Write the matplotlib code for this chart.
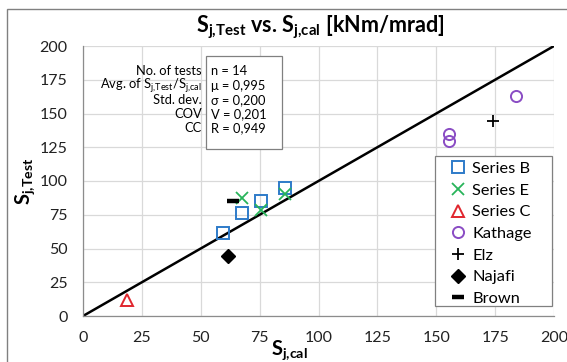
import matplotlib
matplotlib.use("Agg")
import matplotlib.pyplot as plt
from matplotlib.patches import Rectangle

# ---- data ----
b_x = [59.3, 67.5, 75.6, 85.8]
b_y = [61.7, 76.5, 85.4, 94.6]
e_x = [67.5, 75.6, 85.8]
e_y = [87.6, 78.5, 90.1]
c_x = [18.6]
c_y = [11.6]
k_x = [155.5, 155.5, 184.0]
k_y = [134.6, 129.6, 163.0]
elz_x = [174.0]
elz_y = [144.4]
naj_x = [61.4]
naj_y = [44.7]
brown_x = [63.8]
brown_y = [85.2]
ticks = [0, 25, 50, 75, 100, 125, 150, 175, 200]
stat_labels = ["No. of tests", r"Avg. of S$_\mathregular{j{,}Test}$/S$_\mathregular{j{,}cal}$",
               "Std. dev.", "COV", "CC"]
stat_values = ["n = 14", "μ = 0,995", "σ = 0,200", "V = 0,201", "R = 0,949"]

plt.rcParams['font.family'] = ['Lato', 'DejaVu Sans']
plt.rcParams['mathtext.fontset'] = 'custom'
plt.rcParams['mathtext.rm'] = 'Lato'
plt.rcParams['mathtext.bf'] = 'Lato:bold'

W, H = 567, 362
fig = plt.figure(figsize=(W / 100, H / 100), dpi=100)

def fx(px):
    return px / W

def fy(py):
    return 1 - py / H

# outer border
fig.patches.append(Rectangle((fx(7), fy(400)), 1.2, fy(9) - fy(400), transform=fig.transFigure,
                             fill=False, edgecolor='#808080', linewidth=1.0))

ax = fig.add_axes([fx(83), fy(316), (554 - 83) / W, (316 - 46) / H])
ax.set_xlim(0, 200)
ax.set_ylim(0, 200)
ax.set_xticks(ticks)
ax.set_yticks(ticks)
ax.grid(True, color='#D9D9D9', linewidth=0.9)
ax.set_axisbelow(True)
for s in ['top', 'right']:
    ax.spines[s].set_visible(False)
for s in ['left', 'bottom']:
    ax.spines[s].set_color('#8C8C8C')
    ax.spines[s].set_linewidth(0.9)
ax.tick_params(length=0, labelsize=11.5, colors='#222222', pad=11)

ax.plot([0, 200], [0, 200], color='black', linewidth=1.8, zorder=2)

ms = 8
hs = dict(linestyle='none', markerfacecolor='none', markeredgewidth=1.4, markersize=ms, zorder=3)
ax.plot(b_x, b_y, marker='s', color='#2E7BC9', label='Series B', **hs)
ax.plot(e_x, e_y, marker='x', color='#28B45A', label='Series E', linestyle='none',
        markeredgewidth=1.3, markersize=ms, zorder=3)
ax.plot(c_x, c_y, marker='^', color='#E0262E', label='Series C', **hs)
ax.plot(k_x, k_y, marker='o', color='#8A4CC4', label='Kathage', **hs)
ax.plot(elz_x, elz_y, marker='+', color='black', label='Elz', linestyle='none',
        markeredgewidth=1.3, markersize=ms, zorder=3)
ax.plot(naj_x, naj_y, marker='D', color='black', label='Najafi', linestyle='none',
        markersize=7, zorder=3)
ax.plot(brown_x, brown_y, marker='_', color='black', label='Brown', linestyle='none',
        markeredgewidth=3.2, markersize=ms, zorder=3)

# title and axis labels
fig.text(fx(320), fy(27), r"S$_\mathbf{j{,}Test}$ vs. S$_\mathbf{j{,}cal}$ [kNm/mrad]",
         ha='center', va='center', fontsize=15.5, fontweight='bold')
fig.text(fx(289), fy(350), r"S$_\mathbf{j{,}cal}$", ha='center', va='center',
         fontsize=14.5, fontweight='bold')
fig.text(fx(25), fy(181), r"S$_\mathbf{j{,}Test}$", ha='center', va='center',
         fontsize=14.5, fontweight='bold', rotation=90)

# stats box
fig.patches.append(Rectangle((fx(206), fy(149)), fx(282) - fx(206), fy(56) - fy(149),
                             transform=fig.transFigure, facecolor='white',
                             edgecolor='#808080', linewidth=0.9, zorder=5))
rows_y = [71, 86, 100, 114, 128]
for lab, val, yy in zip(stat_labels, stat_values, rows_y):
    fig.text(fx(202), fy(yy), lab, ha='right', va='center', fontsize=9.3, zorder=6)
    fig.text(fx(211), fy(yy), val, ha='left', va='center', fontsize=9.3, zorder=6)

# legend
fig.patches.append(Rectangle((fx(435), fy(306)), fx(552) - fx(435), fy(156) - fy(306),
                             transform=fig.transFigure, facecolor='white',
                             edgecolor='#808080', linewidth=0.9, zorder=5))
handles, labels = ax.get_legend_handles_labels()
leg = fig.legend(handles, labels, loc='upper left', bbox_to_anchor=(fx(450), fy(161.5)),
                 bbox_transform=fig.transFigure, frameon=False, fontsize=11.8,
                 handlelength=1.0, handletextpad=0.35, labelspacing=0.44, borderpad=0,
                 borderaxespad=0)
leg.set_zorder(7)

fig.savefig('out.png', dpi=100)
